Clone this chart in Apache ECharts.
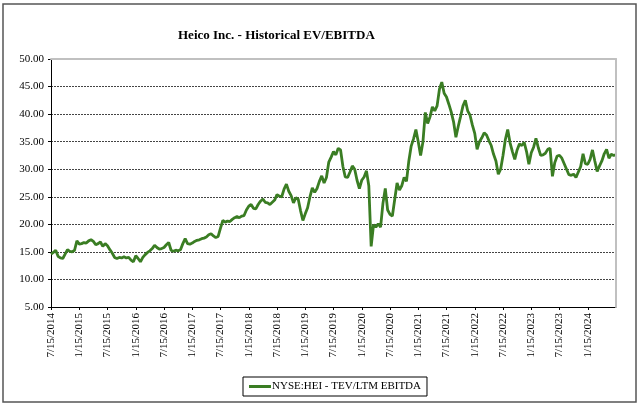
<!DOCTYPE html>
<html>
<head>
<meta charset="utf-8">
<script src="https://cdn.jsdelivr.net/npm/echarts@6/dist/echarts.min.js"></script>
<style>
  html, body { margin: 0; padding: 0; background: #fff; }
  #chart { width: 640px; height: 406px; }
</style>
</head>
<body>
<div id="chart"></div>
<script>
// semi-monthly readings (1st and 15th), 7/15/2014 .. 7/15/2024
const startYear = 2014
const evEbitda = [
  14.6, 14.9, 15.3, 14.2, 13.9, 13.8, 14.6, 15.4, 15.1, 15.0, 15.3, 17.0,
  16.4, 16.5, 16.7, 16.6, 17.0, 17.2, 16.9, 16.3, 16.5, 16.8, 16.0, 16.5,
  16.1, 15.4, 14.8, 14.0, 13.8, 14.0, 13.9, 14.1, 13.9, 14.0, 13.5, 13.2,
  14.3, 13.8, 13.2, 14.0, 14.5, 14.9, 15.2, 15.6, 16.2, 15.8, 15.5, 15.6,
  15.8, 16.3, 16.7, 15.3, 15.1, 15.3, 15.2, 15.4, 16.5, 17.4, 16.5, 16.4,
  16.6, 16.9, 17.1, 17.2, 17.4, 17.5, 17.7, 18.1, 18.3, 17.9, 17.6, 17.8,
  19.3, 20.7, 20.4, 20.6, 20.5, 20.9, 21.2, 21.4, 21.2, 21.5, 21.6, 22.6,
  23.3, 23.6, 22.9, 22.8, 23.6, 24.2, 24.6, 24.0, 23.9, 23.6, 24.0, 24.4,
  25.4, 25.1, 25.0, 26.4, 27.3, 26.0, 25.2, 23.9, 24.8, 24.6, 22.5, 20.7,
  21.9, 23.0, 25.0, 26.6, 25.8, 26.5, 27.8, 28.8, 27.5, 28.5, 31.3, 32.2,
  33.2, 32.6, 33.8, 33.5, 30.5, 28.6, 28.5, 29.5, 30.6, 30.0, 28.0, 26.5,
  28.0, 28.6, 29.7, 27.0, 16.0, 19.9, 19.5, 20.1, 19.5, 23.8, 26.5, 22.6,
  21.8, 21.5, 24.5, 27.5, 26.2, 27.0, 28.5, 27.8, 31.5, 34.2, 35.5, 37.2,
  35.0, 32.5, 35.0, 40.3, 38.3, 39.5, 41.3, 40.6, 41.5, 44.5, 45.8, 43.8,
  43.1, 41.8, 40.4, 38.6, 35.8, 37.8, 39.6, 41.5, 42.5, 40.6, 39.8, 38.0,
  36.5, 33.6, 35.0, 35.7, 36.6, 36.2, 35.2, 34.3, 32.7, 31.5, 29.1, 30.0,
  32.5, 35.4, 37.2, 34.8, 33.2, 31.8, 33.5, 34.6, 34.3, 34.9, 33.2, 30.9,
  33.0, 34.0, 35.6, 33.9, 32.5, 32.6, 32.9, 33.6, 33.8, 28.7, 31.2, 32.4,
  32.5, 32.0, 31.0, 30.0, 29.0, 28.9, 29.1, 28.5, 29.5, 30.5, 32.8, 31.0,
  30.9, 31.8, 33.5, 31.5, 29.6, 30.6, 31.5, 32.8, 33.6, 32.0, 32.7, 32.5,
  32.6
]
const yTicks = [5, 10, 15, 20, 25, 30, 35, 40, 45, 50]

// category dates: 7/15/2014, 8/1/2014, 8/15/2014, ...
let dates = []
for (let i = 0; i < evEbitda.length; i++) {
  let half = i + 1            // offset in half-months from 7/1/2014
  let m = 6 + Math.floor(half / 2)
  let y = startYear + Math.floor(m / 12)
  let d = half % 2 === 1 ? 15 : 1
  dates.push((m % 12 + 1) + '/' + d + '/' + y)
}

const serif = 'Liberation Serif'
const showTick = (idx) => idx % 12 === 0 && idx < evEbitda.length - 1

let chart = echarts.init(document.getElementById('chart'))
chart.setOption({
  backgroundColor: '#fff',
  animation: false,
  title: {
    text: 'Heico Inc. - Historical EV/EBITDA',
    left: 173,
    top: 24,
    textStyle: { fontFamily: serif, fontSize: 13, fontWeight: 'bold', color: '#000' }
  },
  legend: {
    left: 243,
    top: 377,
    data: ['NYSE:HEI - TEV/LTM EBITDA'],
    icon: 'rect',
    itemWidth: 22,
    itemHeight: 3,
    itemGap: 4,
    padding: [4, 6, 4, 6],
    borderColor: '#000',
    borderWidth: 1,
    textStyle: { fontFamily: serif, fontSize: 11, color: '#000', padding: [0, 0, 0, -4] }
  },
  graphic: [{
    type: 'rect',
    shape: { x: 3, y: 4, width: 633, height: 398 },
    style: { fill: 'none', stroke: '#555', lineWidth: 1.5 },
    silent: true
  }],
  grid: { left: 51, right: 24, top: 59, bottom: 99 },
  xAxis: [{
    type: 'category',
    data: dates,
    boundaryGap: false,
    axisLine: { lineStyle: { color: '#000', width: 1 } },
    axisTick: { interval: showTick, length: 3, lineStyle: { color: '#000' } },
    axisLabel: {
      interval: showTick,
      rotate: 90,
      margin: 6,
      fontFamily: serif,
      fontSize: 11,
      color: '#000'
    },
    splitLine: { show: false }
  }, {
    type: 'category',
    data: dates,
    position: 'top',
    boundaryGap: false,
    z: 5,
    axisLine: { lineStyle: { color: '#c0c0c0', width: 2 } },
    axisTick: { show: false },
    axisLabel: { show: false }
  }],
  yAxis: [{
    type: 'value',
    min: yTicks[0],
    max: yTicks[yTicks.length - 1],
    interval: 5,
    axisLine: { show: true, lineStyle: { color: '#000', width: 1 } },
    axisTick: { show: true, length: 3, lineStyle: { color: '#000' } },
    axisLabel: {
      margin: 7,
      fontFamily: serif,
      fontSize: 11,
      color: '#000',
      formatter: (v) => v.toFixed(2)
    },
    splitLine: { lineStyle: { color: '#444', type: [2, 1], width: 1 } }
  }, {
    type: 'value',
    position: 'right',
    min: yTicks[0],
    max: yTicks[yTicks.length - 1],
    interval: 5,
    z: 5,
    axisLine: { show: true, lineStyle: { color: '#c0c0c0', width: 2 } },
    axisTick: { show: false },
    axisLabel: { show: false },
    splitLine: { show: false }
  }],
  series: [{
    name: 'NYSE:HEI - TEV/LTM EBITDA',
    type: 'line',
    data: evEbitda,
    symbol: 'none',
    z: 3,
    lineStyle: { color: '#3a7d23', width: 2.8 },
    itemStyle: { color: '#3a7d23' }
  }]
})
</script>
</body>
</html>
